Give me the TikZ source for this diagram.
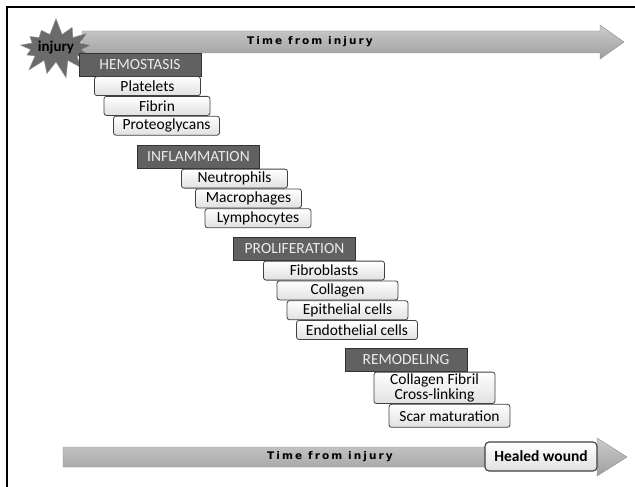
\documentclass[tikz,border=0pt]{standalone}
\usepackage{fontspec}
\setmainfont{Carlito}
\newfontfamily\timefont{DejaVu Sans}[LetterSpace=20]
\usetikzlibrary{positioning, shapes.symbols}

\begin{document}
\begin{tikzpicture}[x=1pt, y=-1pt,
   phase/.style = {draw=black!80, fill=black!62, text=black!8, minimum width=122pt,
      minimum height=23pt, inner sep=0pt, font=\fontsize{15.5}{16}\selectfont},
   item/.style = {draw=black!75, line width=0.8pt, rounded corners=2.5pt, top color=white,
      bottom color=black!12, minimum height=19pt, inner sep=0pt,
      font=\fontsize{15.5}{15}\selectfont},
   narrow/.style = {item, minimum width=106pt},
   wide/.style = {item, minimum width=121pt},
   timebar/.style = {draw=black!45, top color=black!20, bottom color=black!38},
   timetext/.style = {font=\timefont\bfseries\fontsize{10.5}{11}\selectfont}]

   \useasboundingbox (0,0) rectangle (635,487);
   \draw[line width=1.5pt] (7,490) -- (7,7) -- (640,7);

   \shade[timebar] (82,31) -- (600,31) -- (600,25) -- (624,42) -- (600,59)
      -- (600,53) -- (82,53) -- cycle;
   \node[timetext] (toptime) at (310,42) {Time from injury};
   \node[starburst, starburst points=13, starburst point height=17pt, random starburst=7,
      minimum width=74pt, minimum height=62pt, fill=black!58, draw=black!40, inner sep=0pt,
      font=\bfseries\fontsize{15}{15}\selectfont] (injury) at (56,48) {injury};

   \node[phase] (hemo) at (140,64.5) {HEMOSTASIS};
   \node[narrow, below=0pt of hemo, xshift=7.5pt]      (platelets) {Platelets};
   \node[narrow, below=0pt of platelets, xshift=9.5pt] (fibrin)    {Fibrin};
   \node[narrow, below=0pt of fibrin, xshift=9.5pt]    (proteo)    {Proteoglycans};

   \node[phase] (inflam) at (198.5,157) {INFLAMMATION};
   \node[narrow, below=0pt of inflam, xshift=36pt]  (neutro) {Neutrophils};
   \node[narrow, below=0pt of neutro, xshift=14pt]  (macro)  {Macrophages};
   \node[narrow, below=0pt of macro, xshift=9.5pt]  (lympho) {Lymphocytes};

   \node[phase] (prolif) at (294.5,249) {PROLIFERATION};
   \node[wide, below=0pt of prolif, xshift=29.5pt]   (fibro)    {Fibroblasts};
   \node[wide, below=0pt of fibro, xshift=13.5pt]    (collagen) {Collagen};
   \node[wide, below=0pt of collagen, xshift=10pt]   (epi)      {Epithelial cells};
   \node[wide, below=0pt of epi, xshift=9.5pt]       (endo)     {Endothelial cells};

   \node[phase] (remodel) at (406,360) {REMODELING};
   \node[wide, align=center, inner ysep=1.5pt, below=0pt of remodel, xshift=28.5pt]
      (fibril) {Collagen Fibril\\Cross-linking};
   \node[wide, minimum height=23pt, below=0pt of fibril, xshift=15pt] (scar) {Scar maturation};

   \shade[timebar] (63,447) -- (597,447) -- (597,438) -- (627,457) -- (597,476)
      -- (597,467) -- (63,467) -- cycle;
   \node[timetext] (bottime) at (330,457) {Time from injury};
   \node[item, line width=1.1pt, rounded corners=4pt, minimum width=112pt, minimum height=29pt,
      font=\bfseries\fontsize{15.5}{15}\selectfont] (healed) at (541,456.5) {Healed wound};
\end{tikzpicture}
\end{document}
